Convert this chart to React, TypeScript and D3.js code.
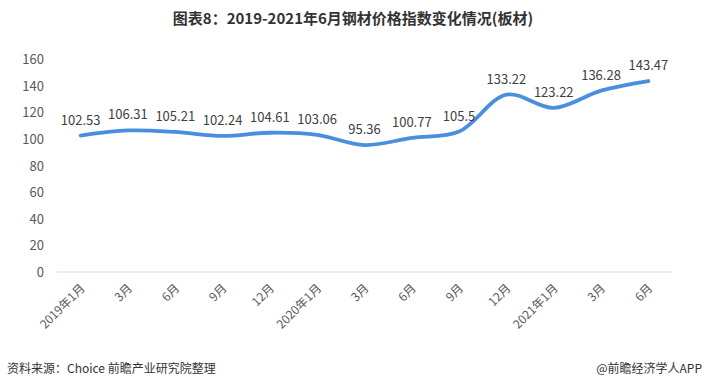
import React from "react";
import * as d3 from "d3";

const months = ["2019年1月", "3月", "6月", "9月", "12月", "2020年1月", "3月", "6月", "9月", "12月", "2021年1月", "3月", "6月"];
const values = [102.53, 106.31, 105.21, 102.24, 104.61, 103.06, 95.36, 100.77, 105.5, 133.22, 123.22, 136.28, 143.47];
const yTicks = [0, 20, 40, 60, 80, 100, 120, 140, 160];

const W = 706;
const H = 389;
const font = "'Microsoft YaHei', 'Noto Sans CJK SC', sans-serif";

function App() {
  const x = d3.scaleBand<number>().domain(months.map((m, i) => i)).range([57, 672]);
  const y = d3.scaleLinear().domain([0, 160]).range([272, 59]);
  const cx = (i: number) => (x(i) as number) + x.bandwidth() / 2;

  const line = d3
    .line<number>()
    .x((v, i) => cx(i))
    .y((v) => y(v))
    .curve(d3.curveCatmullRom.alpha(0.5));

  return (
    <svg width={W} height={H} style={{ position: "absolute", left: 0, top: 0, background: "#fff" }} fontFamily={font}>
      <text x={353} y={24} textAnchor="middle" fontSize={15} fontWeight="bold" fill="#333">
        图表8：2019-2021年6月钢材价格指数变化情况(板材)
      </text>

      {/* y axis labels */}
      {yTicks.map((t) => (
        <text key={t} x={44} y={y(t) + 5} textAnchor="end" fontSize={13} fill="#595959">
          {t}
        </text>
      ))}

      {/* baseline */}
      <line x1={57} x2={672} y1={y(0)} y2={y(0)} stroke="#d9d9d9" strokeWidth={1} />

      {/* x labels */}
      {months.map((m, i) => (
        <text
          key={i}
          transform={`translate(${cx(i) + 5},${y(0) + 17}) rotate(-45)`}
          textAnchor="end"
          fontSize={12}
          fill="#595959"
        >
          {m}
        </text>
      ))}

      <path d={line(values) || ""} fill="none" stroke="#4a8ee0" strokeWidth={3.8} strokeLinecap="round" />

      {values.map((v, i) => (
        <text key={i} x={cx(i)} y={y(v) - 11} textAnchor="middle" fontSize={13} fill="#404040">
          {v}
        </text>
      ))}

      <text x={7} y={373} fontSize={12} fill="#333">
        资料来源：Choice 前瞻产业研究院整理
      </text>
      <text x={702} y={373} textAnchor="end" fontSize={12} fill="#333">
        @前瞻经济学人APP
      </text>
    </svg>
  );
}

export default App;
